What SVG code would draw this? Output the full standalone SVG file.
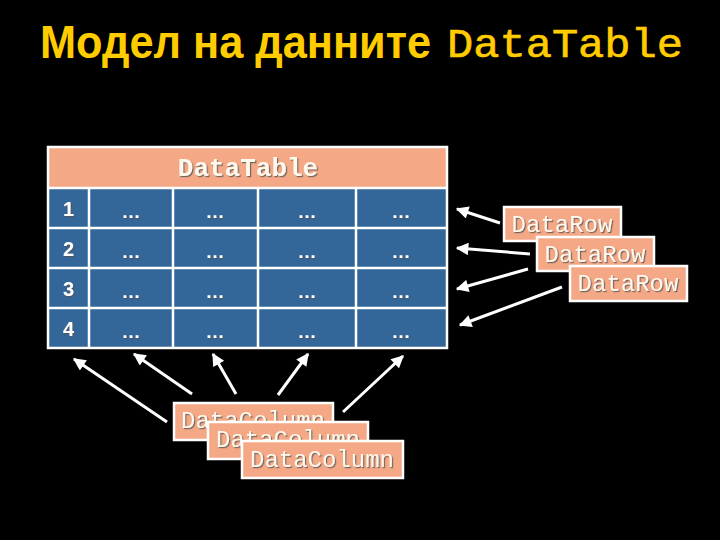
<svg xmlns="http://www.w3.org/2000/svg" width="720" height="540" viewBox="0 0 720 540">
<defs>
<style>
.mono{font-family:"Liberation Mono","Courier New",monospace;}
.box{fill:#F4A886;stroke:#FFFFFF;stroke-width:2.5;}
.lbl{font-family:"Liberation Mono","Courier New",monospace;font-size:24px;fill:#FFF8EC;filter:url(#sh);}
.grid{stroke:#FFFFFF;stroke-width:2.5;fill:none;}
.num{font-family:"Liberation Sans",Arial,sans-serif;font-weight:bold;font-size:20px;fill:#FFFFFF;filter:url(#sh);}
.dots{font-family:"Liberation Sans",Arial,sans-serif;font-weight:bold;font-size:19px;fill:#FFFFFF;text-anchor:middle;filter:url(#sh);}
.arr{stroke:#FFFFFF;stroke-width:3;fill:none;marker-end:url(#ah);}
</style>
<filter id="sh" x="-10%" y="-20%" width="130%" height="150%">
<feDropShadow dx="1.2" dy="1.2" stdDeviation="0.4" flood-color="#555555" flood-opacity="0.8"/>
</filter>
<marker id="ah" viewBox="0 0 10 10" refX="9" refY="5" markerWidth="5" markerHeight="4.2" orient="auto" markerUnits="strokeWidth">
<path d="M0,0 L10,5 L0,10 z" fill="#FFFFFF"/>
</marker>
</defs>
<rect width="720" height="540" fill="#000000"/>

<g id="title">
<text x="40" y="58" font-family="'Liberation Sans',Arial,sans-serif" font-weight="bold" font-size="46" fill="#FFCC00" textLength="391" lengthAdjust="spacingAndGlyphs">Модел на данните</text>
<text x="447" y="57" class="mono" font-size="40" fill="#FFCC00" stroke="#FFCC00" stroke-width="0.6" textLength="236" lengthAdjust="spacingAndGlyphs">DataTable</text>
</g>

<g id="datatable">
<rect x="48" y="147" width="399" height="201" fill="#336699"/>
<rect x="48" y="147" width="399" height="41" fill="#F4A886"/>
<path class="grid" d="M48,147 H447 V348 H48 Z M48,188 H447 M48,228 H447 M48,268 H447 M48,308 H447 M89,188 V348 M173,188 V348 M258,188 V348 M356,188 V348"/>
<text x="248" y="176" class="mono" font-size="26" font-weight="bold" fill="#FFF8EC" text-anchor="middle" filter="url(#sh)">DataTable</text>
<text class="num" x="63" y="216">1</text>
<text class="num" x="63" y="256">2</text>
<text class="num" x="63" y="296">3</text>
<text class="num" x="63" y="336">4</text>
<text class="dots" x="131" y="218">…</text><text class="dots" x="215" y="218">…</text><text class="dots" x="307" y="218">…</text><text class="dots" x="401" y="218">…</text>
<text class="dots" x="131" y="258">…</text><text class="dots" x="215" y="258">…</text><text class="dots" x="307" y="258">…</text><text class="dots" x="401" y="258">…</text>
<text class="dots" x="131" y="298">…</text><text class="dots" x="215" y="298">…</text><text class="dots" x="307" y="298">…</text><text class="dots" x="401" y="298">…</text>
<text class="dots" x="131" y="338">…</text><text class="dots" x="215" y="338">…</text><text class="dots" x="307" y="338">…</text><text class="dots" x="401" y="338">…</text>
</g>

<g id="connectors">
<line class="arr" x1="500" y1="223" x2="457" y2="209"/>
<line class="arr" x1="530" y1="254" x2="457" y2="248"/>
<line class="arr" x1="528" y1="269" x2="457" y2="289"/>
<line class="arr" x1="562" y1="287" x2="460" y2="325"/>
<line class="arr" x1="167" y1="422" x2="74" y2="359"/>
<line class="arr" x1="192" y1="394" x2="134" y2="354"/>
<line class="arr" x1="236" y1="394" x2="213" y2="354"/>
<line class="arr" x1="278" y1="395" x2="308" y2="354"/>
<line class="arr" x1="343" y1="412" x2="403" y2="356"/>
</g>

<g id="datarow1"><rect class="box" x="504" y="207" width="117" height="34"/><text class="lbl" x="562" y="232" text-anchor="middle">DataRow</text></g>
<g id="datarow2"><rect class="box" x="537" y="237" width="117" height="34"/><text class="lbl" x="595" y="262" text-anchor="middle">DataRow</text></g>
<g id="datarow3"><rect class="box" x="570" y="266" width="117" height="35"/><text class="lbl" x="628" y="291" text-anchor="middle">DataRow</text></g>

<g id="datacolumn1"><rect class="box" x="174" y="403" width="159" height="37"/><text class="lbl" x="253" y="428" text-anchor="middle">DataColumn</text></g>
<g id="datacolumn2"><rect class="box" x="208" y="422" width="160" height="37"/><text class="lbl" x="288" y="447" text-anchor="middle">DataColumn</text></g>
<g id="datacolumn3"><rect class="box" x="242" y="441" width="161" height="37"/><text class="lbl" x="322" y="467" text-anchor="middle">DataColumn</text></g>
</svg>
